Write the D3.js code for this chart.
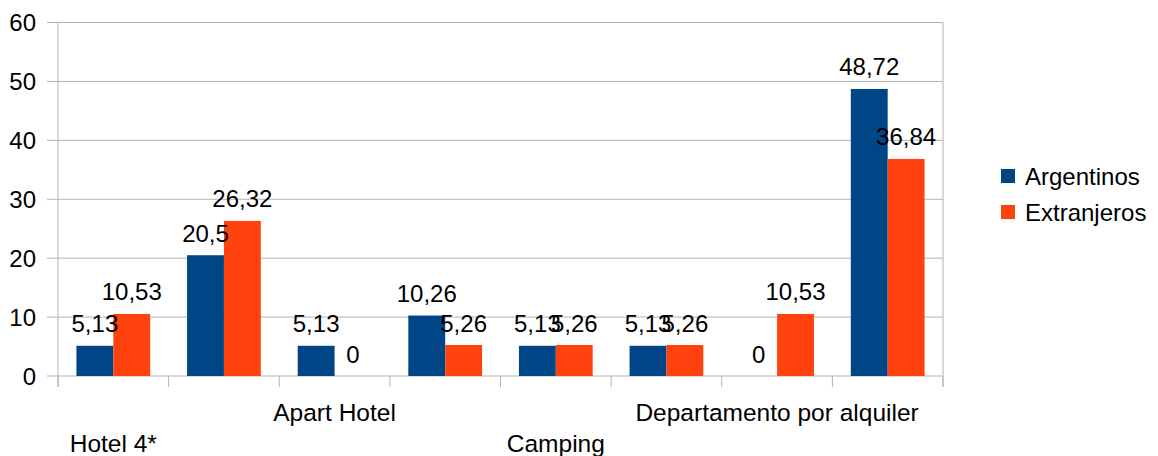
<!DOCTYPE html>
<html>
<head>
<meta charset="utf-8">
<script src="https://cdn.jsdelivr.net/npm/d3@7"></script>
<style>
  body { margin: 0; background: #fff; }
  text { font-family: "Liberation Sans", Arial, sans-serif; fill: #000; }
</style>
</head>
<body>
<script>
// categorias (solo algunas etiquetas se ven en el original)
var categorias = ["Hotel 4*", "", "Apart Hotel", "", "Camping", "", "Departamento por alquiler", ""];
var series = ["Argentinos", "Extranjeros"];
var argentinos = [5.13, 20.5, 5.13, 10.26, 5.13, 5.13, 0, 48.72];
var extranjeros = [10.53, 26.32, 0, 5.26, 5.26, 5.26, 10.53, 36.84];
var ticksY = [0, 10, 20, 30, 40, 50, 60];
var colores = ["#004586", "#ff420e"];

var w = 1158, h = 456;
var izq = 58, der = 943, arriba = 22.5, abajo = 376;

var svg = d3.select('body').append('svg')
    .attr('width', w)
    .attr('height', h);

var x = d3.scaleBand()
    .domain(d3.range(categorias.length))
    .range([izq, der])
    .paddingInner(0)
    .paddingOuter(0);

var xs = d3.scaleBand()
    .domain(series)
    .range([0, x.bandwidth()])
    .paddingOuter(0.5);

var y = d3.scaleLinear()
    .domain([0, 60])
    .range([abajo, arriba]);

// lineas de grilla
svg.selectAll('line.grid')
    .data(ticksY)
    .enter()
    .append('line')
    .attr('class', 'grid')
    .attr('x1', izq - 11)
    .attr('x2', der)
    .attr('y1', function(d){ return y(d) })
    .attr('y2', function(d){ return y(d) })
    .attr('stroke', '#b3b3b3')
    .attr('stroke-width', 1);

// eje y
svg.append('line')
    .attr('x1', izq).attr('x2', izq)
    .attr('y1', arriba).attr('y2', abajo + 11)
    .attr('stroke', '#b3b3b3');
svg.append('line')
    .attr('x1', der).attr('x2', der)
    .attr('y1', arriba).attr('y2', abajo + 11)
    .attr('stroke', '#b3b3b3');

// marcas del eje x
svg.selectAll('line.tick')
    .data(d3.range(categorias.length + 1))
    .enter()
    .append('line')
    .attr('class', 'tick')
    .attr('x1', function(i){ return izq + i * x.step() })
    .attr('x2', function(i){ return izq + i * x.step() })
    .attr('y1', abajo)
    .attr('y2', abajo + 11)
    .attr('stroke', '#b3b3b3');

svg.selectAll('text.ytick')
    .data(ticksY)
    .enter()
    .append('text')
    .attr('class', 'ytick')
    .attr('x', 36)
    .attr('y', function(d){ return y(d) + 8.5 })
    .attr('text-anchor', 'end')
    .style('font-size', '24px')
    .text(function(d){ return d });

// barras
var valores = [argentinos, extranjeros];
var grupos = svg.selectAll('g.serie')
    .data(series)
    .enter()
    .append('g')
    .attr('fill', function(d, i){ return colores[i] });

grupos.each(function(s, si){
    var g = d3.select(this);
    g.selectAll('rect')
        .data(valores[si])
        .enter()
        .append('rect')
        .attr('x', function(d, i){ return x(i) + xs(s) })
        .attr('width', xs.bandwidth())
        .attr('y', function(d){ return y(d) })
        .attr('height', function(d){ return abajo - y(d) });
});

// etiquetas de valores
grupos.each(function(s, si){
    svg.selectAll('text.v' + si)
        .data(valores[si])
        .enter()
        .append('text')
        .attr('class', 'v' + si)
        .attr('x', function(d, i){ return x(i) + xs(s) + xs.bandwidth() / 2 })
        .attr('y', function(d){ return y(d) - 13.5 })
        .attr('text-anchor', 'middle')
        .style('font-size', '24px')
        .text(function(d){ return String(d).replace('.', ',') });
});

// etiquetas de categorias, escalonadas
svg.selectAll('text.cat')
    .data(categorias)
    .enter()
    .append('text')
    .attr('class', 'cat')
    .attr('x', function(d, i){ return x(i) + x.bandwidth() / 2 })
    .attr('y', function(d, i){ return i % 4 === 0 ? 452 : 421 })
    .attr('text-anchor', 'middle')
    .style('font-size', '24.5px')
    .text(function(d){ return d });

// leyenda
var ley = svg.selectAll('g.ley')
    .data(series)
    .enter()
    .append('g')
    .attr('transform', function(d, i){ return 'translate(1001,' + (169 + i * 36) + ')' });
ley.append('rect')
    .attr('width', 14)
    .attr('height', 14)
    .attr('fill', function(d, i){ return colores[i] });
ley.append('text')
    .attr('x', 24)
    .attr('y', 16)
    .style('font-size', '24px')
    .text(function(d){ return d });
</script>
</body>
</html>
